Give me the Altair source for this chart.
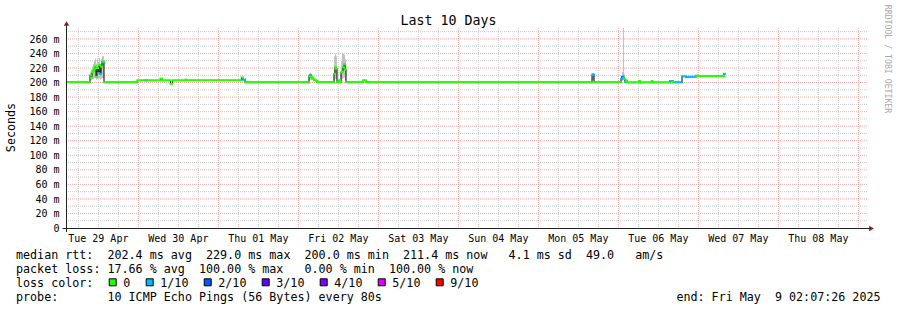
import altair as alt
import pandas as pd

# ------------------------------------------------------------------ data
# median rtt (ms), step series: start time, value, loss class (pings lost of 10)
med_time = [
    "2025-04-29 02:36", "2025-04-29 09:30", "2025-04-29 09:48", "2025-04-29 10:06",
    "2025-04-29 10:24", "2025-04-29 10:42", "2025-04-29 11:00", "2025-04-29 11:18",
    "2025-04-29 11:36", "2025-04-29 11:54", "2025-04-29 12:12", "2025-04-29 12:30",
    "2025-04-29 12:48", "2025-04-29 13:06", "2025-04-29 13:24", "2025-04-29 13:42",
    "2025-04-29 23:42", "2025-04-30 02:09", "2025-04-30 02:36", "2025-04-30 06:39",
    "2025-04-30 07:06", "2025-04-30 09:39", "2025-04-30 10:15", "2025-04-30 14:09",
    "2025-04-30 14:27", "2025-05-01 06:57", "2025-05-01 07:24", "2025-05-01 08:00",
    "2025-05-02 03:12", "2025-05-02 03:30", "2025-05-02 03:48", "2025-05-02 04:06",
    "2025-05-02 04:24", "2025-05-02 04:42", "2025-05-02 05:18", "2025-05-02 05:36",
    "2025-05-02 10:42", "2025-05-02 11:00", "2025-05-02 11:18", "2025-05-02 11:36",
    "2025-05-02 12:12", "2025-05-02 12:30", "2025-05-02 12:48", "2025-05-02 13:06",
    "2025-05-02 13:24", "2025-05-02 13:42", "2025-05-02 14:00", "2025-05-02 14:18",
    "2025-05-02 19:24", "2025-05-02 20:18", "2025-05-05 16:06", "2025-05-05 16:24",
    "2025-05-05 16:42", "2025-05-06 00:48", "2025-05-06 01:06", "2025-05-06 01:24",
    "2025-05-06 01:42", "2025-05-06 02:00", "2025-05-06 02:18", "2025-05-06 02:36",
    "2025-05-06 06:12", "2025-05-06 06:30", "2025-05-06 10:00", "2025-05-06 10:18",
    "2025-05-06 15:30", "2025-05-06 16:24", "2025-05-06 17:18", "2025-05-06 19:06",
    "2025-05-06 20:18", "2025-05-06 21:00", "2025-05-06 23:18", "2025-05-06 23:54",
    "2025-05-07 07:42",
]
med_value = [
    200.5, 210, 207, 214, 216, 219, 222, 208,
    220, 213, 224, 212, 222, 228, 229, 200.5,
    203, 203, 203, 205.5, 203, 198.5, 203, 204,
    203, 207, 204, 200.5, 209, 210.5, 208, 206,
    205, 203, 202.5, 200.5, 212, 221, 219, 200.5,
    203, 200.5, 214, 215, 221, 225, 218, 200.5,
    203, 200.5, 211, 211, 200.5, 205, 208, 207,
    205, 201, 203, 200.3, 202, 200.3, 202, 200.3,
    202, 200.3, 200.3, 208.5, 207.5, 208, 209.5, 209,
    212,
]
med_loss = [
    0, 0, 0, 0, 0, 0, 0, 0,
    0, 1, 0, 1, 0, 1, 0, 0,
    0, 1, 0, 0, 0, 0, 0, 0,
    0, 0, 1, 0, 0, 1, 0, 0,
    0, 0, 0, 0, 0, 0, 0, 0,
    0, 0, 0, 0, 0, 0, 0, 0,
    0, 0, 0, 1, 0, 1, 2, 1,
    0, 1, 0, 0, 0, 0, 0, 0,
    1, 0, 1, 1, 1, 1, 0, 0,
    1,
]
med_end = "2025-05-07 08:00"

# smoke (spread of the 10 pings), ms
smoke_time = [
    "2025-04-29 09:30", "2025-04-29 09:48", "2025-04-29 10:06", "2025-04-29 10:24",
    "2025-04-29 10:42", "2025-04-29 11:00", "2025-04-29 11:18", "2025-04-29 11:36",
    "2025-04-29 11:54", "2025-04-29 12:12", "2025-04-29 12:30", "2025-04-29 12:48",
    "2025-04-29 13:06", "2025-04-29 13:24",
    "2025-05-02 03:12", "2025-05-02 03:30", "2025-05-02 03:48",
    "2025-05-02 10:42", "2025-05-02 11:00", "2025-05-02 11:18",
    "2025-05-02 12:48", "2025-05-02 13:06", "2025-05-02 13:24", "2025-05-02 13:42",
    "2025-05-02 14:00",
    "2025-05-05 16:06", "2025-05-05 16:24",
    "2025-05-06 01:06", "2025-05-06 01:24", "2025-05-06 01:42",
]
smoke_lo = [203, 204, 205, 205, 206, 206, 204, 205, 204, 206, 204, 205, 206, 206,
            203, 204, 203,
            203, 205, 205,
            203, 205, 206, 207, 203,
            203, 203,
            202, 205, 202]
smoke_hi = [214, 218, 222, 226, 230, 233, 226, 232, 228, 234, 226, 232, 236, 236,
            212, 214, 211,
            236, 240, 236,
            230, 240, 240, 238, 232,
            213, 213,
            215, 275, 212]

loss_keys = [0, 1, 2, 3, 4, 5, 9]
loss_labels = ["0", "1/10", "2/10", "3/10", "4/10", "5/10", "9/10"]
loss_colors = ["#26ff00", "#00b8ff", "#0059ff", "#5e00ff", "#7e00ff", "#dd00ff", "#ff0000"]

day_labels = ["2025-04-29", "2025-04-30", "2025-05-01", "2025-05-02", "2025-05-03",
              "2025-05-04", "2025-05-05", "2025-05-06", "2025-05-07", "2025-05-08"]
y_ticks = [0, 20, 40, 60, 80, 100, 120, 140, 160, 180, 200, 220, 240, 260]

title_text = "Last 10 Days"
y_title = "Seconds"
side_text = "RRDTOOL / TOBI OETIKER"
legend_lines = [
    "median rtt:  202.4 ms avg  229.0 ms max  200.0 ms min  211.4 ms now   4.1 ms sd  49.0   am/s",
    "packet loss: 17.66 % avg  100.00 % max   0.00 % min  100.00 % now",
    "loss color:",
    "probe:       10 ICMP Echo Pings (56 Bytes) every 80s",
]
end_text = "end: Fri May  9 02:07:26 2025"
range_start = "2025-04-29 02:36"
range_end = "2025-05-09 02:36"

# ------------------------------------------------------------------ helpers
FONT = "DejaVu Sans Mono"
W, H = 800, 200
NB = "\u00a0"
LEG_FS = 11.7


def ms(s):
    return int(pd.Timestamp(s, tz="UTC").timestamp() * 1000)


def keep_spaces(s):
    return s.replace(" ", NB)


xscale = alt.Scale(type="utc", domain=[ms(range_start), ms(range_end)])
yscale = alt.Scale(domain=[0, 275], nice=False, zero=True)

med = pd.DataFrame({"t": [ms(s) for s in med_time], "v": med_value, "loss": med_loss})
med["t2"] = list(med["t"][1:]) + [ms(med_end)]
line_df = pd.concat([med[["t", "v"]],
                     pd.DataFrame({"t": [ms(med_end)], "v": [med_value[-1]]})])

step = 18 * 60 * 1000
smoke = pd.DataFrame({"t": [ms(s) for s in smoke_time], "lo": smoke_lo, "hi": smoke_hi})
smoke["t2"] = smoke["t"] + step

midnights = pd.date_range("2025-04-30", "2025-05-09", freq="D", tz="UTC")
six_hours = [t for t in pd.date_range("2025-04-29 06:00", "2025-05-09 00:00", freq="6h", tz="UTC")
             if t.hour != 0]
vmaj = pd.DataFrame({"t": [int(t.timestamp() * 1000) for t in midnights]})
vmin = pd.DataFrame({"t": [int(t.timestamp() * 1000) for t in six_hours]})
hmaj = pd.DataFrame({"v": list(range(20, 261, 20))})
hmin = pd.DataFrame({"v": list(range(10, 271, 20))})

xlab = pd.DataFrame({
    "t": [ms(d + " 12:00") for d in day_labels],
    "lab": [keep_spaces(pd.Timestamp(d).strftime("%a %d %b")) for d in day_labels],
})
ylab = pd.DataFrame({"v": y_ticks,
                     "lab": ["0" if v == 0 else keep_spaces(f"{v} m") for v in y_ticks]})

GRID_GREY = "#c8c8c8"
GRID_RED = "#f4a8a8"
AXIS_C = "#222222"
ARROW_C = "#8b1c1c"

X = lambda f: alt.X(f, scale=xscale, axis=None)
Y = lambda f: alt.Y(f, scale=yscale, axis=None)

lay = []
lay.append(alt.Chart(hmin).mark_rule(color=GRID_GREY, strokeDash=[1, 1], strokeWidth=1).encode(
    y=Y("v:Q")))
lay.append(alt.Chart(vmin).mark_rule(color=GRID_GREY, strokeDash=[1, 1], strokeWidth=1).encode(
    x=X("t:T")))
lay.append(alt.Chart(hmaj).mark_rule(color=GRID_RED, strokeDash=[1, 1], strokeWidth=1).encode(
    y=Y("v:Q")))
lay.append(alt.Chart(vmaj).mark_rule(color=GRID_RED, strokeDash=[1, 1], strokeWidth=1).encode(
    x=X("t:T")))

# smoke
lay.append(alt.Chart(smoke).mark_rect(color="#c2c2c2").encode(
    x=X("t:T"), x2="t2:T", y=Y("lo:Q"), y2="hi:Q"))

# black step line
lay.append(alt.Chart(line_df).mark_line(interpolate="step-after", color="#000000", strokeWidth=1).encode(
    x=X("t:T"), y=Y("v:Q")))

# coloured median segments
lay.append(alt.Chart(med).mark_rule(strokeWidth=2, strokeCap="square").encode(
    x=X("t:T"), x2="t2:T", y=Y("v:Q"),
    color=alt.Color("loss:N", scale=alt.Scale(domain=loss_keys, range=loss_colors), legend=None)))

# axis labels
lay.append(alt.Chart(xlab).mark_text(font=FONT, fontSize=10, color="#000000", align="center",
                                     baseline="alphabetic").encode(
    x=X("t:T"), y=alt.value(213.7), text="lab:N"))
lay.append(alt.Chart(ylab).mark_text(font=FONT, fontSize=10, color="#000000", align="right",
                                     baseline="alphabetic", dy=3.6).encode(
    y=Y("v:Q"), x=alt.value(-7.5), text="lab:N"))

# axis lines and arrows
lay.append(alt.Chart().mark_rule(color=AXIS_C, strokeWidth=1).encode(
    x=alt.value(-4.5), x2=alt.value(803), y=alt.value(200.5)))
lay.append(alt.Chart().mark_rule(color=AXIS_C, strokeWidth=1).encode(
    x=alt.value(-0.5), y=alt.value(-3), y2=alt.value(204)))
lay.append(alt.Chart().mark_point(shape="triangle-right", filled=True, color=ARROW_C, size=30, opacity=1).encode(
    x=alt.value(804.5), y=alt.value(200.5)))
lay.append(alt.Chart().mark_point(shape="triangle-up", filled=True, color=ARROW_C, size=30, opacity=1).encode(
    x=alt.value(-0.5), y=alt.value(-4.5)))

# texts
lay.append(alt.Chart().mark_text(font=FONT, fontSize=13.3, color="#000000", align="center",
                                 baseline="alphabetic").encode(
    x=alt.value(381.5), y=alt.value(-3.5), text=alt.value(title_text)))
lay.append(alt.Chart().mark_text(font=FONT, fontSize=LEG_FS, color="#000000", align="center",
                                 baseline="middle", angle=270).encode(
    x=alt.value(-56.5), y=alt.value(99.5), text=alt.value(y_title)))
lay.append(alt.Chart().mark_text(font=FONT, fontSize=8.2, color="#a8a8a8", align="center",
                                 baseline="middle", angle=90).encode(
    x=alt.value(819.7), y=alt.value(31), text=alt.value(keep_spaces(side_text))))

leg = pd.DataFrame({"txt": [keep_spaces(s) for s in legend_lines],
                    "py": [230.5 + 14 * i for i in range(len(legend_lines))]})
lay.append(alt.Chart(leg).mark_text(font=FONT, fontSize=LEG_FS, color="#000000", align="left",
                                    baseline="alphabetic").encode(
    x=alt.value(-51), y=alt.Y("py:Q", scale=None), text="txt:N"))
lay.append(alt.Chart().mark_text(font=FONT, fontSize=LEG_FS, color="#000000", align="right",
                                 baseline="alphabetic").encode(
    x=alt.value(813.5), y=alt.value(272.5), text=alt.value(keep_spaces(end_text))))

# loss colour legend
sq_left, sq_x, lab_x = 41.7, [], []
for lab in loss_labels:
    sq_x.append(sq_left + 4)
    lab_x.append(sq_left + 14.6)
    sq_left = sq_left + 14.6 + len(lab) * 7 + 15.4
lg = pd.DataFrame({"loss": loss_keys, "lab": loss_labels, "sx": sq_x, "lx": lab_x})
lay.append(alt.Chart(lg).mark_point(shape="square", filled=True, size=49, stroke="#000000",
                                    strokeWidth=1, opacity=1).encode(
    x=alt.X("sx:Q", scale=None), y=alt.value(254.3),
    fill=alt.Color("loss:N", scale=alt.Scale(domain=loss_keys, range=loss_colors), legend=None)))
lay.append(alt.Chart(lg).mark_text(font=FONT, fontSize=LEG_FS, color="#000000", align="left",
                                   baseline="alphabetic").encode(
    x=alt.X("lx:Q", scale=None), y=alt.value(258.5), text="lab:N"))

chart = alt.layer(*lay).properties(
    width=W, height=H,
    autosize=alt.AutoSizeParams(type="none"),
    padding={"left": 67, "top": 28, "right": 30, "bottom": 82},
    background="#ffffff",
).configure_view(stroke=None)

chart.save("out.html", embed_options={"renderer": "svg", "actions": False})
